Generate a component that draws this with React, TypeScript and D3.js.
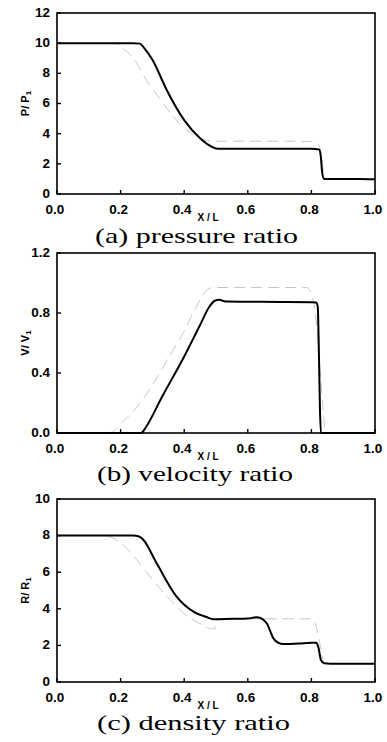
import { line, curveMonotoneX, scaleLinear, format } from "d3";

const WIDTH = 387;
const HEIGHT = 742;
const PLOT_LEFT = 57;
const PLOT_RIGHT = 375;

const xTicks = [0, 0.2, 0.4, 0.6, 0.8, 1.0];

// (a) pressure ratio
const pressureX = [0, 0.24, 0.261, 0.275, 0.3, 0.345, 0.4, 0.45, 0.49, 0.505, 0.52, 0.6, 0.7, 0.8, 0.824, 0.829, 0.834, 0.84, 0.86, 0.95, 1.0];
const pressureNum = [10, 10, 9.97, 9.65, 8.9, 6.9, 4.9, 3.7, 3.1, 3.0, 3.0, 3.0, 3.0, 3.0, 2.95, 2.6, 1.4, 1.0, 1.0, 1.0, 0.98];
const pressureExactX = [0, 0.18, 0.21, 0.24, 0.28, 0.33, 0.38, 0.43, 0.47, 0.49, 0.6, 0.7, 0.8, 0.815, 0.825, 0.835, 0.842, 0.86, 1.0];
const pressureExact = [10, 10, 9.6, 9.0, 7.6, 6.1, 4.8, 3.9, 3.55, 3.5, 3.5, 3.5, 3.48, 3.4, 3.2, 2.0, 1.05, 1.0, 1.0];

// (b) velocity ratio
const velocityX = [0, 0.26, 0.268, 0.28, 0.33, 0.4, 0.45, 0.48, 0.495, 0.51, 0.53, 0.6, 0.7, 0.8, 0.815, 0.82, 0.823, 0.827, 0.83, 0.9, 1.0];
const velocityNum = [0, 0, 0.005, 0.04, 0.24, 0.51, 0.72, 0.845, 0.88, 0.888, 0.876, 0.875, 0.874, 0.872, 0.87, 0.84, 0.6, 0.15, 0, 0, 0];
const velocityExactX = [0, 0.16, 0.18, 0.2, 0.25, 0.3, 0.35, 0.4, 0.44, 0.47, 0.49, 0.6, 0.7, 0.785, 0.8, 0.815, 0.83, 0.845, 0.9, 1.0];
const velocityExact = [0, 0, 0.015, 0.06, 0.17, 0.32, 0.5, 0.68, 0.85, 0.95, 0.97, 0.97, 0.97, 0.97, 0.93, 0.75, 0.35, 0, 0, 0];

// (c) density ratio
const densityX = [0, 0.24, 0.256, 0.27, 0.313, 0.376, 0.429, 0.47, 0.492, 0.55, 0.6, 0.628, 0.64, 0.66, 0.68, 0.695, 0.712, 0.76, 0.8, 0.815, 0.822, 0.83, 0.84, 0.86, 1.0];
const densityNum = [8, 8, 7.97, 7.8, 6.5, 4.67, 3.85, 3.55, 3.43, 3.45, 3.47, 3.54, 3.5, 3.2, 2.4, 2.15, 2.07, 2.1, 2.15, 2.15, 1.9, 1.2, 1.02, 1.0, 1.0];
const densityExactX = [0, 0.14, 0.17, 0.2, 0.25, 0.3, 0.35, 0.41, 0.45, 0.49, 0.496, 0.498, 0.5, 0.6, 0.7, 0.8, 0.81, 0.83, 0.84, 0.86, 1.0];
const densityExact = [8, 8, 7.9, 7.6, 6.7, 5.6, 4.6, 3.6, 3.2, 2.9, 2.9, 3.2, 3.45, 3.45, 3.45, 3.45, 3.3, 1.8, 1.05, 1.0, 1.0];

const pressureTicks = [0, 2, 4, 6, 8, 10, 12];
const velocityTicks = [0, 0.4, 0.8, 1.2];
const densityTicks = [0, 2, 4, 6, 8, 10];

const captions = ["(a) pressure ratio", "(b) velocity ratio", "(c) density ratio"];
const yLabels = [["P/ P", "1"], ["V/ V", "1"], ["R/ R", "1"]];

type PanelProps = {
  top: number;
  bottom: number;
  ticks: number[];
  tickFormat: (v: number) => string;
  solidX: number[];
  solidY: number[];
  dashX: number[];
  dashY: number[];
  caption: string;
  captionX: number;
  captionY: number;
  captionLength: number;
  yLabel: string[];
};

const sans = "'Liberation Sans', Arial, sans-serif";
const serif = "'Liberation Serif', 'Times New Roman', serif";

function Panel(props: PanelProps) {
  const { top, bottom, ticks, tickFormat, solidX, solidY, dashX, dashY } = props;
  const x = scaleLinear().domain([0, 1]).range([PLOT_LEFT, PLOT_RIGHT]);
  const y = scaleLinear().domain([0, ticks[ticks.length - 1]]).range([bottom, top]);
  const curve = line<[number, number]>()
    .x((d) => x(d[0]))
    .y((d) => y(d[1]))
    .curve(curveMonotoneX);
  const solid = curve(solidX.map((v, i) => [v, solidY[i]]));
  const dashed = curve(dashX.map((v, i) => [v, dashY[i]]));
  const midY = (top + bottom) / 2;

  return (
    <g>
      {dashed ? <path d={dashed} fill="none" stroke="#b8b8b8" strokeWidth={0.8} strokeDasharray="11 6" /> : null}
      {solid ? <path d={solid} fill="none" stroke="#000" strokeWidth={2} strokeLinejoin="round" /> : null}
      <rect x={PLOT_LEFT} y={top} width={PLOT_RIGHT - PLOT_LEFT} height={bottom - top} fill="none" stroke="#000" strokeWidth={1.6} />
      {ticks.map((t) => (
        <g key={`y${t}`}>
          <line x1={PLOT_LEFT} x2={PLOT_LEFT + 4} y1={y(t)} y2={y(t)} stroke="#000" strokeWidth={1.4} />
          <text x={50} y={y(t) - 1} dy="0.36em" textAnchor="end" fontFamily={sans} fontWeight="bold" fontSize={13.5}>
            {tickFormat(t)}
          </text>
        </g>
      ))}
      {xTicks.map((t) => (
        <g key={`x${t}`}>
          <line x1={x(t)} x2={x(t)} y1={bottom} y2={bottom - 4} stroke="#000" strokeWidth={1.4} />
          <text x={x(t) - 2} y={bottom + 15} dy="0.36em" textAnchor="middle" fontFamily={sans} fontWeight="bold" fontSize={13.5}>
            {format(".1f")(t)}
          </text>
        </g>
      ))}
      <text x={208} y={bottom + 23} dy="0.36em" textAnchor="middle" fontFamily={sans} fontWeight="bold" fontSize={10}>
        X / L
      </text>
      <text
        transform={`translate(25,${midY}) rotate(-90)`}
        textAnchor="middle"
        dy="0.36em"
        fontFamily={sans}
        fontWeight="bold"
        fontSize={11}
      >
        {props.yLabel[0]}
        <tspan fontSize={8} dy="2">{props.yLabel[1]}</tspan>
      </text>
      <text
        x={props.captionX}
        y={props.captionY}
        fontFamily={serif}
        fontSize={21}
        textLength={props.captionLength}
        lengthAdjust="spacingAndGlyphs"
      >
        {props.caption}
      </text>
    </g>
  );
}

export default function App() {
  const one = format(".1f");
  const zero = format("d");
  return (
    <svg
      width={WIDTH}
      height={HEIGHT}
      viewBox={`0 0 ${WIDTH} ${HEIGHT}`}
      style={{ position: "absolute", left: 0, top: 0, background: "#fff" }}
    >
      <rect width={WIDTH} height={HEIGHT} fill="#fff" />
      <Panel
        top={13}
        bottom={194}
        ticks={pressureTicks}
        tickFormat={zero}
        solidX={pressureX}
        solidY={pressureNum}
        dashX={pressureExactX}
        dashY={pressureExact}
        caption={captions[0]}
        captionX={95}
        captionY={243}
        captionLength={203}
        yLabel={yLabels[0]}
      />
      <Panel
        top={253}
        bottom={433}
        ticks={velocityTicks}
        tickFormat={one}
        solidX={velocityX}
        solidY={velocityNum}
        dashX={velocityExactX}
        dashY={velocityExact}
        caption={captions[1]}
        captionX={97}
        captionY={481}
        captionLength={196}
        yLabel={yLabels[1]}
      />
      <Panel
        top={499}
        bottom={682}
        ticks={densityTicks}
        tickFormat={zero}
        solidX={densityX}
        solidY={densityNum}
        dashX={densityExactX}
        dashY={densityExact}
        caption={captions[2]}
        captionX={97}
        captionY={730}
        captionLength={193}
        yLabel={yLabels[2]}
      />
    </svg>
  );
}
